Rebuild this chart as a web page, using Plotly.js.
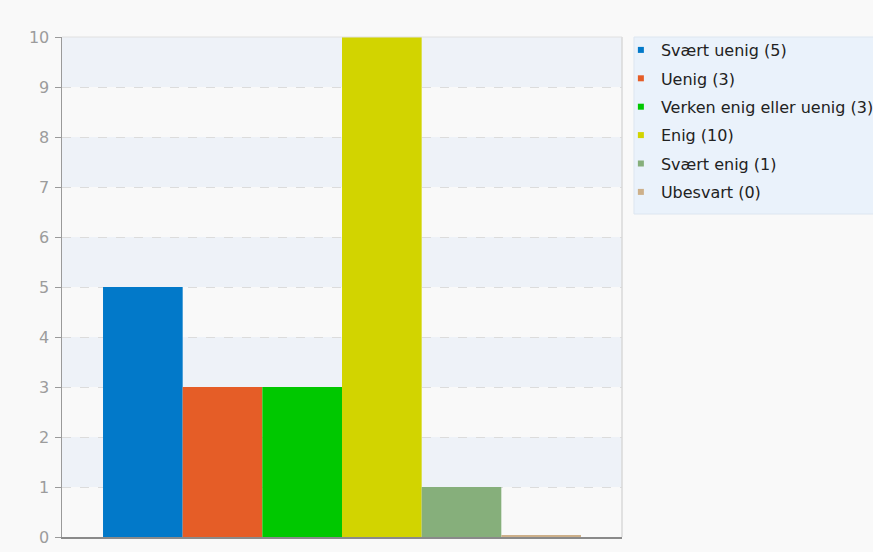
<!DOCTYPE html>
<html>
<head>
<meta charset="utf-8">
<script src="https://cdn.plot.ly/plotly-3.0.1.min.js"></script>
<style>html,body{margin:0;padding:0;background:#f9f9f9;}#chart{width:873px;height:552px;}</style>
</head>
<body>
<div id="chart"></div>
<script>
const categories = ["Svært uenig", "Uenig", "Verken enig eller uenig", "Enig", "Svært enig", "Ubesvart"];
const values = [5, 3, 3, 10, 1, 0];
const colors = ["#0279c9", "#e55d27", "#00c800", "#d2d400", "#86af7b", "#cdb08a"];
const yTicks = [0, 1, 2, 3, 4, 5, 6, 7, 8, 9, 10];

const traces = [];
categories.forEach((c, i) => {
  traces.push({
    type: "bar",
    x: [i],
    y: [values[i] === 0 ? 0.04 : values[i]],
    width: 1,
    marker: {color: colors[i], line: {width: 0}},
    showlegend: false,
    hoverinfo: "skip"
  });
});
categories.forEach((c, i) => {
  traces.push({
    type: "scatter",
    mode: "markers",
    x: [null], y: [null],
    name: c + " (" + values[i] + ")",
    legendgroup: "g" + i,
    marker: {symbol: "square", size: 6, color: colors[i]},
    showlegend: true
  });
});

const shapes = [];
for (let k = 0; k + 1 < yTicks.length; k++) {
  if (yTicks[k] % 2 === 1) {
    shapes.push({type: "rect", xref: "paper", yref: "y", x0: 0, x1: 1, y0: yTicks[k], y1: yTicks[k + 1],
      fillcolor: "#eef2f8", line: {width: 0}, layer: "below"});
  }
}
shapes.push({type: "line", xref: "paper", yref: "paper", x0: 1, x1: 1, y0: 0, y1: 1, line: {color: "#d8d8d8", width: 1.5}});
shapes.push({type: "line", xref: "paper", yref: "paper", x0: 0, x1: 1, y0: 1, y1: 1, line: {color: "#e0e0e0", width: 1}});
// legend background panel
shapes.push({type: "rect", xref: "paper", yref: "paper", x0: 1.0214, x1: 1.46, y0: 0.646, y1: 1,
  fillcolor: "#eaf2fb", line: {color: "#dde6f0", width: 1}, layer: "below"});

const layout = {
  width: 873, height: 552,
  margin: {l: 62, r: 251, t: 37, b: 15, autoexpand: false},
  paper_bgcolor: "#f9f9f9",
  plot_bgcolor: "#f9f9f9",
  font: {family: "DejaVu Sans", size: 14, color: "#999999"},
  barmode: "overlay",
  xaxis: {range: [-1.015, 6.015], showticklabels: false, showgrid: false, zeroline: false,
    showline: true, linecolor: "#8a8a8a", linewidth: 1.5, ticks: "", fixedrange: true},
  yaxis: {range: [0, 10], tickvals: yTicks, ticktext: yTicks.map(String), showgrid: true,
    gridcolor: "#dcdcdc", griddash: "dash", gridwidth: 1, zeroline: false,
    showline: true, linecolor: "#9a9a9a", linewidth: 1.5, ticks: "outside", ticklen: 6,
    tickcolor: "#9a9a9a", tickfont: {size: 16, color: "#9c9c9c"}, ticklabelstandoff: 2},
  shapes: shapes,
  showlegend: true,
  legend: {x: 0.998, xanchor: "left", y: 1.008, yanchor: "top", bgcolor: "rgba(0,0,0,0)",
    borderwidth: 0, font: {family: "DejaVu Sans", size: 16, color: "#222222"},
    itemwidth: 30, tracegroupgap: 4.6, traceorder: "grouped"}
};

Plotly.newPlot("chart", traces, layout, {displayModeBar: false, staticPlot: true});
</script>
</body>
</html>
